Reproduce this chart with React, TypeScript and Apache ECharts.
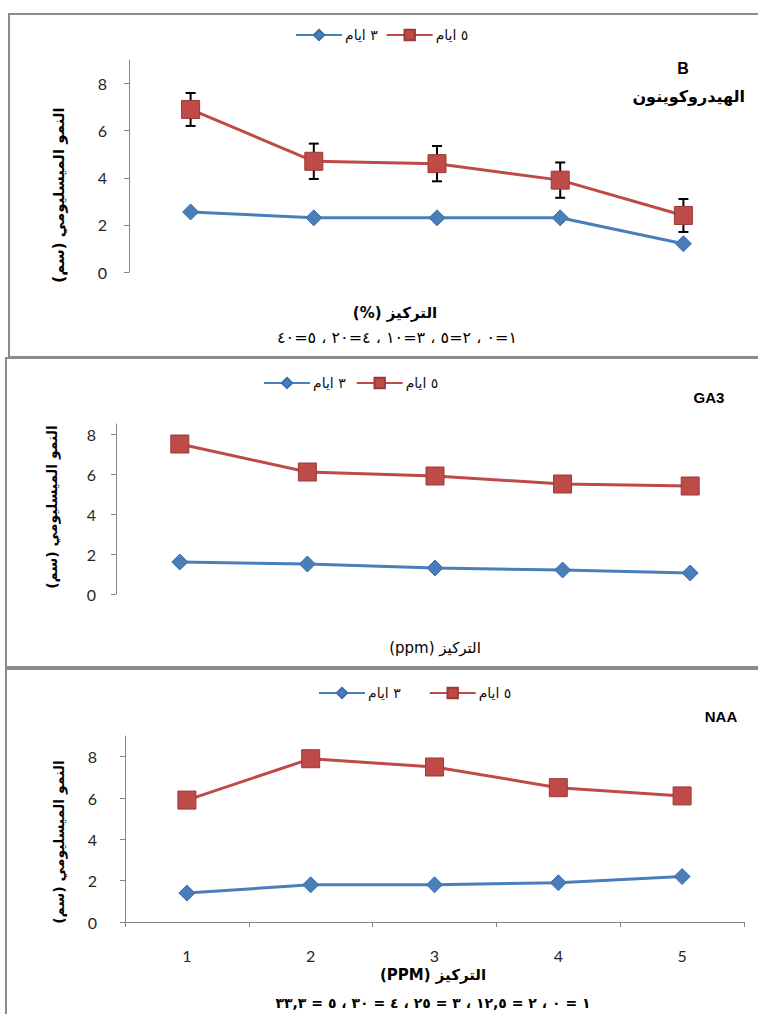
import React, { useEffect, useRef } from "react";
import * as echarts from "echarts";

const categories = ["1", "2", "3", "4", "5"];
const seriesNames = ["٣ ايام", "٥ ايام"];
const yTickValues = [0, 2, 4, 6, 8];

// Panel 1 – Hydroquinone
const hq3 = [2.55, 2.3, 2.3, 2.3, 1.2];
const hq5 = [6.9, 4.7, 4.6, 3.9, 2.4];
const hq5Err = [0.7, 0.75, 0.75, 0.75, 0.7];
// Panel 2 – GA3
const ga3_3 = [1.6, 1.5, 1.3, 1.2, 1.05];
const ga3_5 = [7.5, 6.1, 5.9, 5.5, 5.4];
// Panel 3 – NAA
const naa3 = [1.4, 1.8, 1.8, 1.9, 2.2];
const naa5 = [5.9, 7.9, 7.5, 6.5, 6.1];

const yTitle = "النمو الميسليومي (سم)";
const hqTitle = "الهيدروكوينون";
const xTitle1 = "(%) التركيز";
const xSub1 = "١=٠ ، ٢=٥ ، ٣=١٠ ، ٤=٢٠ ، ٥=٤٠";
const xTitle2 = "(ppm) التركيز";
const xTitle3 = "(PPM) التركيز";
const xSub3 = "١ = ٠ ، ٢ = ١٢,٥ ، ٣ = ٢٥ ، ٤ = ٣٠ ، ٥ = ٣٣,٣";

const BLUE = "#4A7EBB";
const RED = "#BE4B48";
const AXIS = "#868686";
const LBL_FONT = "Lato, 'Open Sans', 'DejaVu Sans', sans-serif";
const AR_FONT = "'DejaVu Sans', 'Liberation Sans', sans-serif";

function yAxisCfg(gridIndex: number, max: number, margin: number) {
  return {
    type: "value",
    gridIndex,
    min: 0,
    max,
    interval: 2,
    axisLine: { show: true, lineStyle: { color: AXIS, width: 1 } },
    axisTick: { show: true, length: 5, customValues: yTickValues, lineStyle: { color: AXIS } },
    axisLabel: {
      customValues: yTickValues,
      fontSize: 16,
      color: "#262626",
      fontFamily: LBL_FONT,
      margin,
    },
    splitLine: { show: false },
  };
}

function lineSeries(name: string, data: number[], idx: number, isRed: boolean) {
  return {
    type: "line",
    name,
    data,
    xAxisIndex: idx,
    yAxisIndex: idx,
    symbol: isRed ? "rect" : "diamond",
    symbolSize: isRed ? 18 : 16,
    color: isRed ? RED : BLUE,
    lineStyle: { width: 3, color: isRed ? RED : BLUE },
    itemStyle: { color: isRed ? RED : BLUE, borderColor: isRed ? "#9a3a38" : "#3f6fa8", borderWidth: 1 },
    z: 3,
  };
}

function legendCfg(left: number, top: number, gap: number) {
  return {
    left,
    top,
    itemWidth: 46,
    itemHeight: 13,
    itemGap: gap,
    data: seriesNames,
    textStyle: { fontSize: 14, color: "#111", fontFamily: AR_FONT, padding: [0, 0, 0, -2] },
  };
}

function txt(x: number, y: number, text: string, opts: any = {}) {
  return {
    type: "text",
    x,
    y,
    rotation: opts.rotation || 0,
    z: 10,
    style: {
      text,
      fill: "#000",
      font: `${opts.bold ? "bold " : ""}${opts.size || 15}px ${opts.font || AR_FONT}`,
      textAlign: opts.align || "center",
      textVerticalAlign: "middle",
    },
  };
}

function border(x: number, y: number, w: number, h: number) {
  return {
    type: "rect",
    z: 0,
    shape: { x, y, width: w, height: h },
    style: { fill: "none", stroke: "#8c8c8c", lineWidth: 2 },
  };
}

export default function App() {
  const ref = useRef<HTMLDivElement>(null);
  useEffect(() => {
    if (!ref.current) return;
    const chart = echarts.init(ref.current, null, { renderer: "svg" });
    const errData = hq5.map((v, i) => [i, v - hq5Err[i], v + hq5Err[i]]);
    const option: any = {
      animation: false,
      backgroundColor: "#fff",
      grid: [
        { left: 129, top: 60, width: 616, height: 212 },
        { left: 116, top: 424, width: 638, height: 170 },
        { left: 125, top: 736, width: 619, height: 186 },
      ],
      legend: [legendCfg(290, 23, 8), legendCfg(258, 371, 10), legendCfg(313, 681, 28)],
      xAxis: [
        { type: "category", gridIndex: 0, data: categories, boundaryGap: true, show: false },
        { type: "category", gridIndex: 1, data: categories, boundaryGap: true, show: false },
        {
          type: "category",
          gridIndex: 2,
          data: categories,
          boundaryGap: true,
          axisLine: { show: true, lineStyle: { color: AXIS, width: 1 } },
          axisTick: { show: true, length: 5, lineStyle: { color: AXIS } },
          axisLabel: { fontSize: 16, color: "#262626", fontFamily: LBL_FONT, margin: 25 },
          splitLine: { show: false },
        },
      ],
      yAxis: [yAxisCfg(0, 9, 22), yAxisCfg(1, 8.5, 20), yAxisCfg(2, 9, 28)],
      series: [
        {
          type: "custom",
          name: "err",
          xAxisIndex: 0,
          yAxisIndex: 0,
          data: errData,
          z: 2,
          renderItem: (params: any, api: any) => {
            const x = api.value(0);
            const lo = api.coord([x, api.value(1)]);
            const hi = api.coord([x, api.value(2)]);
            const w = 5;
            const style = { stroke: "#000", lineWidth: 2 };
            return {
              type: "group",
              children: [
                { type: "line", shape: { x1: lo[0], y1: lo[1], x2: hi[0], y2: hi[1] }, style },
                { type: "line", shape: { x1: lo[0] - w, y1: lo[1], x2: lo[0] + w, y2: lo[1] }, style },
                { type: "line", shape: { x1: hi[0] - w, y1: hi[1], x2: hi[0] + w, y2: hi[1] }, style },
              ],
            };
          },
        },
        lineSeries(seriesNames[0], hq3, 0, false),
        lineSeries(seriesNames[1], hq5, 0, true),
        lineSeries(seriesNames[0], ga3_3, 1, false),
        lineSeries(seriesNames[1], ga3_5, 1, true),
        lineSeries(seriesNames[0], naa3, 2, false),
        lineSeries(seriesNames[1], naa5, 2, true),
      ],
      graphic: [
        border(9, 14, 760, 343),
        border(6, 358, 760, 309),
        border(6, 669, 760, 360),
        txt(683, 68, "B", { bold: true, size: 16, font: "'Liberation Sans', Arial, sans-serif" }),
        txt(745, 96, hqTitle, { bold: true, size: 16, align: "right" }),
        txt(709, 397, "GA3", { bold: true, size: 15, font: "'Liberation Sans', Arial, sans-serif" }),
        txt(721, 716, "NAA", { bold: true, size: 15, font: "'Liberation Sans', Arial, sans-serif" }),
        txt(59, 195, yTitle, { bold: true, size: 15, rotation: Math.PI / 2 }),
        txt(52, 507, yTitle, { bold: true, size: 14, rotation: Math.PI / 2 }),
        txt(59, 842, yTitle, { bold: true, size: 14, rotation: Math.PI / 2 }),
        txt(395, 313, xTitle1, { bold: true, size: 15 }),
        txt(397, 337, xSub1, { size: 16 }),
        txt(435, 648, xTitle2, { size: 15 }),
        txt(433, 975, xTitle3, { bold: true, size: 15 }),
        txt(433, 1003, xSub3, { bold: true, size: 14 }),
      ],
    };
    chart.setOption(option);
    return () => chart.dispose();
  }, []);
  return (
    <div
      ref={ref}
      style={{ position: "absolute", left: 0, top: 0, width: 758, height: 1014 }}
    />
  );
}
